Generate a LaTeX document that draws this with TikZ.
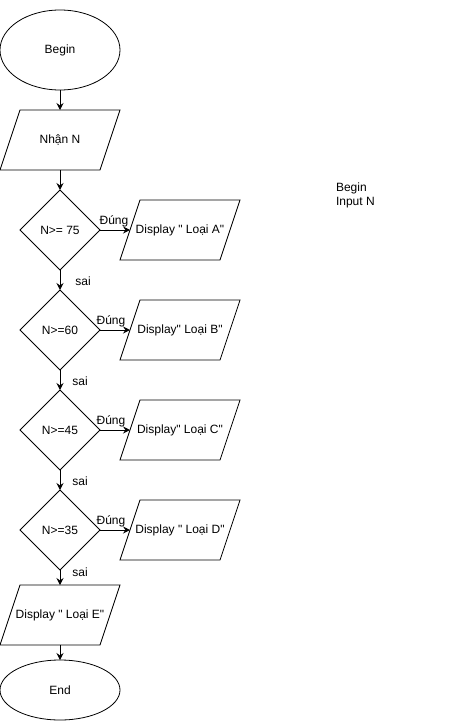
\documentclass[tikz,border=0pt]{standalone}
\usepackage{fontspec}
\setmainfont{Liberation Sans}[Ligatures=TeXOff]
\usetikzlibrary{shapes.geometric,arrows.meta}
\begin{document}
\begin{tikzpicture}[x=1bp,y=-1bp,
  font=\fontsize{12bp}{14bp}\selectfont,
  every node/.style={inner sep=0pt,outer sep=0pt},
  terminal/.style={draw,ellipse,minimum width=120bp},
  % parallelogram body: the mid-height box; the slanted outline is drawn below
  iobox/.style={rectangle,minimum width=100bp,minimum height=60bp},
  decision/.style={draw,diamond,minimum width=80bp,minimum height=80bp},
  flow/.style={-{Stealth[length=7bp,width=7bp,inset=2.5bp]}},
  lbl/.style={font=\fontsize{12bp}{14bp}\selectfont},
  every path/.style={line width=0.8bp}
]
\useasboundingbox (0,0) rectangle (451,721);

% main column
\node[terminal,minimum height=80bp] (begin) at (60,50) {Begin};
\node[iobox] (input) at (60,140) {Nhận N};
\node[decision] (d1) at (60,230) {N>= 75};
\node[decision] (d2) at (60,330) {N>=60};
\node[decision] (d3) at (60,430) {N>=45};
\node[decision] (d4) at (60,530) {N>=35};
\node[iobox] (oe) at (60,615) {Display " Loại E"};
\node[terminal,minimum height=60bp] (end) at (60,690) {End};

% outputs on the right
\node[iobox] (oa) at (180,230) {Display " Loại A"};
\node[iobox] (ob) at (180,330) {Display" Loại B"};
\node[iobox] (oc) at (180,430) {Display" Loại C"};
\node[iobox] (od) at (180,530) {Display " Loại D"};

% slanted outlines of the input/output boxes
\foreach \n in {input,oe,oa,ob,oc,od}
  \draw ([xshift=10bp]\n.north west) -- ([xshift=10bp]\n.north east)
    -- ([xshift=-10bp]\n.south east) -- ([xshift=-10bp]\n.south west) -- cycle;

% free text
\node[anchor=north west,align=left] (note) at (336,182.5) {Begin\\Input N};

% vertical flow
\draw[flow] (begin) -- (input);
\draw[flow] (input) -- (d1);
\draw[flow] (d1) -- (d2);
\draw[flow] (d2) -- (d3);
\draw[flow] (d3) -- (d4);
\draw[flow] (d4) -- (oe);
\draw[flow] (oe) -- (end);

% true branches
\draw[flow] (d1.east) -- (oa.west);
\draw[flow] (d2.east) -- (ob.west);
\draw[flow] (d3.east) -- (oc.west);
\draw[flow] (d4.east) -- (od.west);

% branch labels
\node[lbl] (t1) at (114,221) {Đúng};
\node[lbl] (t2) at (111,321) {Đúng};
\node[lbl] (t3) at (111,421) {Đúng};
\node[lbl] (t4) at (111,521) {Đúng};
\node[lbl] (f1) at (83,281) {sai};
\node[lbl] (f2) at (80,381) {sai};
\node[lbl] (f3) at (80,481) {sai};
\node[lbl] (f4) at (80,572) {sai};
\end{tikzpicture}
\end{document}
